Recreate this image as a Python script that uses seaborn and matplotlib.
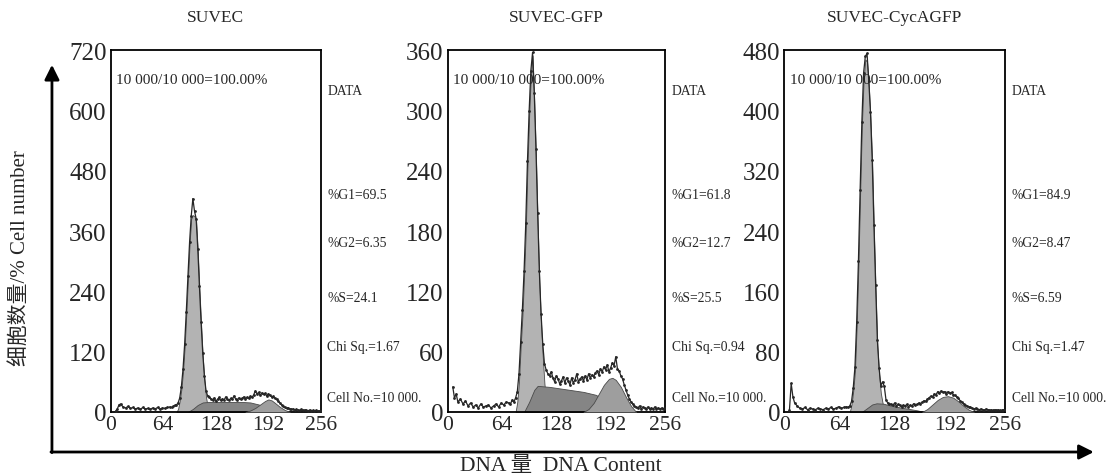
import matplotlib
matplotlib.use('Agg')
import matplotlib.pyplot as plt
import seaborn as sns
import numpy as np

# channel positions of the raw histogram (finer across the G1 peak and S/G2 region)
channels = np.concatenate([[6, 8, 10], np.arange(12, 73, 3), np.arange(74, 121, 2), np.arange(122, 257, 2)])

# raw DNA histograms
suvec_counts = [2, 6, 14,
                16, 10, 8, 11, 7, 9, 6, 8, 5, 9, 6, 7, 5, 8, 6, 9, 5, 8, 7, 9, 10,
                9, 11, 13, 14, 18, 28, 50, 85, 135, 200, 270, 338, 390, 425, 400, 385, 325, 250, 180, 118, 72, 42, 32, 30,
                26, 24, 28, 22, 25, 29, 23, 26, 24, 30,
                25, 23, 27, 25, 32, 26, 24, 28, 25, 27,
                30, 26, 29, 27, 31, 29, 34, 42, 36, 39,
                33, 38, 35, 37, 32, 36, 33, 30, 31, 27,
                25, 21, 18, 14, 11, 9, 7, 8, 6, 5,
                6, 4, 5, 4, 3, 5, 3, 4, 3, 2,
                4, 2, 3, 2, 3, 2, 2, 2]
gfp_counts = [25, 14, 18,
              10, 13, 8, 11, 6, 9, 5, 7, 4, 8, 5, 6, 7, 4, 6, 8, 5, 9, 7, 10, 9,
              8, 12, 10, 14, 20, 38, 70, 102, 140, 188, 250, 300, 340, 358, 318, 262, 198, 140, 98, 68, 48, 42, 38, 36,
              40, 34, 30, 36, 33, 28, 31, 35, 29, 34,
              31, 27, 34, 29, 32, 38, 30, 33, 35, 31,
              36, 32, 38, 34, 37, 35, 39, 41, 37, 43,
              40, 45, 42, 47, 40, 44, 49, 46, 55, 43,
              41, 36, 33, 27, 22, 17, 13, 10, 8, 6,
              5, 4, 6, 3, 5, 4, 3, 5, 3, 4,
              3, 5, 3, 4, 3, 4, 3, 4]
cyca_counts = [3, 38, 20,
               12, 8, 5, 4, 6, 3, 5, 4, 3, 5, 4, 3, 5, 4, 6, 4, 5, 7, 5, 6, 7,
               6, 8, 14, 32, 60, 120, 200, 295, 385, 450, 472, 476, 440, 398, 335, 248, 168, 95, 58, 35, 40, 34, 16, 12,
               11, 10, 9, 12, 8, 10, 9, 7, 9, 8,
               10, 7, 9, 8, 11, 9, 10, 12, 11, 13,
               15, 14, 17, 19, 21, 20, 24, 23, 27, 25,
               28, 26, 27, 24, 27, 25, 26, 23, 22, 20,
               18, 15, 13, 11, 9, 8, 7, 6, 5, 4,
               5, 4, 3, 4, 3, 2, 4, 3, 2, 3,
               2, 3, 2, 3, 2, 2, 3, 2]

# model components (G1, S, G2)
suvec_g1_ch = [80, 82, 84, 86, 88, 90, 92, 94, 96, 98, 100, 102, 104, 106, 108, 110, 112, 114, 116, 118, 120]
suvec_g1 = [0, 6, 22, 45, 80, 130, 195, 265, 335, 385, 392, 390, 380, 320, 245, 175, 112, 65, 30, 10, 0]
suvec_s_ch = [94, 100, 106, 112, 120, 140, 160, 170, 180, 190, 200, 208]
suvec_s = [0, 6, 14, 19, 20, 20, 20, 19, 15, 9, 4, 0]
suvec_g2_ch = [164, 170, 176, 182, 188, 192, 196, 200, 206, 212, 218]
suvec_g2 = [0, 3, 8, 15, 22, 25, 23, 18, 10, 4, 0]

gfp_g1_ch = [80, 82, 84, 86, 88, 90, 92, 94, 96, 98, 100, 102, 104, 106, 108, 110, 112, 114, 116, 118, 120]
gfp_g1 = [0, 10, 30, 65, 95, 135, 180, 245, 295, 335, 355, 310, 255, 190, 130, 88, 55, 28, 10, 3, 0]
gfp_s_ch = [90, 96, 102, 106, 120, 140, 160, 175, 185, 195, 200]
gfp_s = [0, 10, 22, 26, 25, 22.5, 20, 17, 10, 3, 0]
gfp_g2_ch = [160, 166, 172, 178, 184, 190, 194, 198, 204, 210, 216, 222]
gfp_g2 = [0, 3, 9, 18, 27, 33, 34, 32, 25, 15, 6, 0]

cyca_g1_ch = [76, 78, 80, 82, 84, 86, 88, 90, 92, 94, 96, 98, 100, 102, 104, 106, 108, 110, 112, 114, 116, 118]
cyca_g1 = [0, 10, 28, 55, 115, 195, 290, 380, 440, 468, 465, 435, 390, 330, 240, 160, 88, 50, 25, 12, 4, 0]
cyca_s_ch = [90, 96, 102, 107, 115, 125, 135, 145, 155, 162]
cyca_s = [0, 5, 10, 11.5, 11, 8, 6, 4, 2, 0]
cyca_g2_ch = [160, 166, 172, 178, 184, 190, 196, 202, 208, 214, 220]
cyca_g2 = [0, 4, 10, 16, 20, 21, 19, 14, 8, 3, 0]

titles = ['SUVEC', 'SUVEC-GFP', 'SUVEC-CycAGFP']
y_max = [720, 360, 480]
y_step = [120, 60, 80]
x_ticks = [0, 64, 128, 192, 256]
pct_g1 = ['69.5', '61.8', '84.9']
pct_g2 = ['6.35', '12.7', '8.47']
pct_s = ['24.1', '25.5', '6.59']
chi_sq = ['1.67', '0.94', '1.47']
gated = '10 000/10 000=100.00%'
cell_no = 'Cell No.=10 000.'

G1_COLOR = '#b3b3b3'
S_COLOR = '#858585'
G2_COLOR = '#9e9e9e'


def plot_panel(ax, counts, g1, s, g2, ymax, ystep, title, stats):
    ax.fill_between(g1[0], g1[1], color=G1_COLOR, ec='#4a4a4a', lw=0.6, zorder=1)
    ax.fill_between(s[0], s[1], color=S_COLOR, ec='#4a4a4a', lw=0.6, zorder=2)
    ax.fill_between(g2[0], g2[1], color=G2_COLOR, ec='#4a4a4a', lw=0.6, zorder=3)
    sns.lineplot(x=channels, y=counts, ax=ax, color='#262626', lw=0.9,
                 marker='o', markersize=2.0, markeredgecolor='#262626', markeredgewidth=0, zorder=4)
    ax.set(xlim=(0, 256), ylim=(0, ymax), xlabel='', ylabel='')
    ax.set_xticks(x_ticks)
    ax.set_yticks(np.arange(0, ymax + 1, ystep))
    ax.tick_params(axis='x', direction='in', length=4, width=1, labelsize=15.5, pad=2)
    ax.tick_params(axis='y', direction='in', length=4, width=1, labelsize=18, pad=3)
    for sp in ax.spines.values():
        sp.set_visible(True)
        sp.set_linewidth(1.3)
        sp.set_color('black')
    ax.set_title(title, fontsize=12.5, pad=21)
    ax.text(0.025, 0.92, gated, transform=ax.transAxes, fontsize=11, va='center')
    side = [('DATA', 0.888), ('%G1=' + stats[0], 0.602), ('%G2=' + stats[1], 0.470),
            ('%S=' + stats[2], 0.318), ('Chi Sq.=' + stats[3], 0.180), (cell_no, 0.041)]
    for txt, yy in side:
        ax.text(1.03, yy, txt, transform=ax.transAxes, fontsize=9.8, va='center', clip_on=False)


sns.set_style('white')
plt.rcParams['font.family'] = ['Liberation Serif', 'Noto Sans CJK SC', 'DejaVu Sans']

fig = plt.figure(figsize=(11.15, 4.77), dpi=100)
lefts = [0.0993, 0.4015, 0.7034]
widths = [0.1886, 0.1949, 0.1979]
panels = [
    (suvec_counts, (suvec_g1_ch, suvec_g1), (suvec_s_ch, suvec_s), (suvec_g2_ch, suvec_g2)),
    (gfp_counts, (gfp_g1_ch, gfp_g1), (gfp_s_ch, gfp_s), (gfp_g2_ch, gfp_g2)),
    (cyca_counts, (cyca_g1_ch, cyca_g1), (cyca_s_ch, cyca_s), (cyca_g2_ch, cyca_g2)),
]
axs = []
for i, (counts, g1, s, g2) in enumerate(panels):
    ax = fig.add_axes([lefts[i], 0.1342, widths[i], 0.758])
    plot_panel(ax, counts, g1, s, g2, y_max[i], y_step[i], titles[i],
               (pct_g1[i], pct_g2[i], pct_s[i], chi_sq[i]))
    axs.append(ax)

# outer axis arrows
arrow = dict(arrowstyle='-|>', color='black', lw=2, mutation_scale=22, shrinkA=0, shrinkB=0)
axs[0].annotate('', xy=(0.0466, 0.862), xytext=(0.0466, 0.049), xycoords='figure fraction',
                textcoords='figure fraction', arrowprops=arrow, annotation_clip=False)
axs[0].annotate('', xy=(0.981, 0.0503), xytext=(0.0457, 0.0503), xycoords='figure fraction',
                textcoords='figure fraction', arrowprops=arrow, annotation_clip=False)

fig.text(0.018, 0.459, '细胞数量/% Cell number', rotation=90, fontsize=15, ha='center', va='center')
fig.text(0.503, 0.021, 'DNA 量  DNA Content', fontsize=15.5, ha='center', va='center')

fig.savefig('out.png', dpi=100)
